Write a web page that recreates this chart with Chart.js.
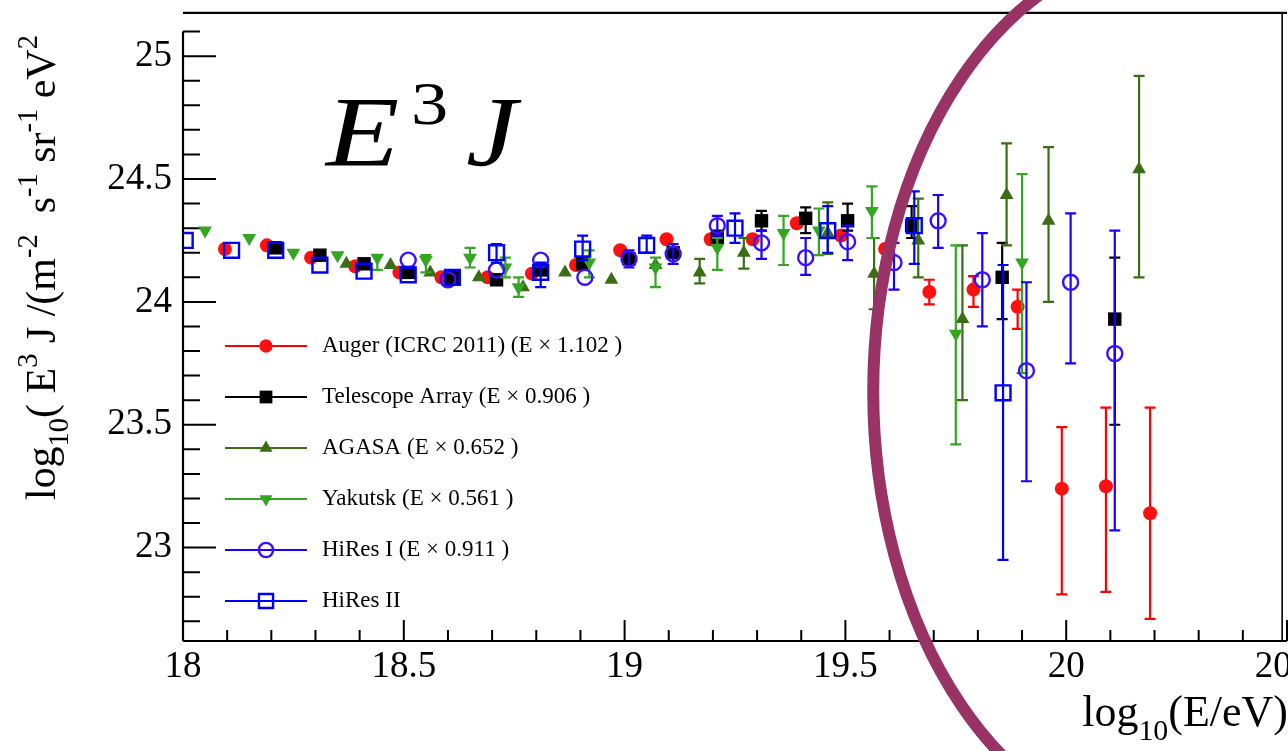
<!DOCTYPE html>
<html><head><meta charset="utf-8">
<script src="https://cdn.jsdelivr.net/npm/chart.js@4.4.1/dist/chart.umd.min.js"></script>
<style>html,body{margin:0;padding:0;background:#fff;overflow:hidden;}#wrap{width:1330px;height:751px;}</style>
</head><body><div id="wrap"><canvas id="c" width="1330" height="751"></canvas></div>
<script>
const SERIF = "'Liberation Serif','Times New Roman',serif";

const xTickLabels = [18, 18.5, 19, 19.5, 20, 20.5];
const yTickLabels = [23, 23.5, 24, 24.5, 25];

const seriesLabels = [
  "Auger (ICRC 2011) (E \u00d7 1.102 )",
  "Telescope Array (E \u00d7 0.906 )",
  "AGASA (E \u00d7 0.652 )",
  "Yakutsk (E \u00d7 0.561 )",
  "HiRes I (E \u00d7 0.911 )",
  "HiRes II"
];

const augerX = [18.095,18.19,18.29,18.39,18.49,18.585,18.69,18.79,18.89,18.99,19.095,19.195,19.29,19.39,19.49,19.59,19.69,19.79,19.89,19.99,20.09,20.19];
const augerY = [24.215,24.23,24.18,24.145,24.12,24.10,24.10,24.115,24.15,24.21,24.255,24.255,24.255,24.32,24.27,24.215,24.04,24.05,23.98,23.24,23.25,23.14];
const augerLo = [null,null,null,null,null,null,null,null,null,null,null,null,null,null,null,null,23.99,23.98,23.89,22.81,22.82,22.71];
const augerHi = [null,null,null,null,null,null,null,null,null,null,null,null,null,null,null,null,24.09,24.105,24.05,23.49,23.57,23.57];

const taX = [18.21,18.31,18.41,18.51,18.61,18.71,18.81,18.905,19.01,19.11,19.21,19.31,19.41,19.505,19.65,19.855,20.11];
const taY = [24.22,24.19,24.155,24.12,24.10,24.09,24.13,24.155,24.175,24.20,24.26,24.33,24.34,24.33,24.31,24.10,23.93];
const taLo = [null,null,null,null,null,null,null,null,null,null,24.23,24.29,24.28,24.29,24.26,23.93,23.50];
const taHi = [null,null,null,null,null,null,null,null,null,null,24.29,24.37,24.385,24.40,24.39,24.24,24.18];

const agasaX = [18.37,18.47,18.56,18.67,18.77,18.865,18.97,19.07,19.17,19.27,19.46,19.565,19.665,19.765,19.865,19.96,20.165];
const agasaY = [24.155,24.15,24.12,24.10,24.06,24.12,24.09,24.15,24.12,24.20,24.28,24.115,24.25,23.93,24.435,24.33,24.54];
const agasaLo = [null,null,null,null,null,null,null,null,24.075,24.135,24.195,23.97,24.10,23.60,24.23,24.00,24.10];
const agasaHi = [null,null,null,null,null,null,null,null,24.175,24.26,24.405,24.26,24.42,24.23,24.645,24.63,24.92];

const yakX = [18.05,18.15,18.25,18.35,18.44,18.55,18.65,18.73,18.76,18.92,19.07,19.21,19.36,19.44,19.56,19.75,19.90];
const yakY = [24.29,24.26,24.20,24.19,24.18,24.17,24.18,24.14,24.06,24.16,24.14,24.22,24.28,24.29,24.37,23.87,24.16];
const yakLo = [null,null,null,null,24.13,24.12,24.14,24.10,24.02,24.10,24.06,24.13,24.15,24.19,24.26,23.42,23.71];
const yakHi = [null,null,null,null,24.19,24.19,24.22,24.18,24.10,24.21,24.18,24.26,24.35,24.38,24.47,24.23,24.52];

const hr1X = [18.51,18.60,18.71,18.81,18.91,19.01,19.11,19.21,19.31,19.41,19.505,19.61,19.71,19.81,19.91,20.01,20.11];
const hr1Y = [24.17,24.09,24.13,24.17,24.10,24.175,24.195,24.31,24.24,24.18,24.245,24.16,24.33,24.09,23.72,24.08,23.79];
const hr1Lo = [null,null,null,null,null,24.14,24.155,24.27,24.175,24.11,24.17,24.05,24.22,23.90,23.27,23.75,23.07];
const hr1Hi = [null,null,null,null,null,24.21,24.235,24.35,24.29,24.26,24.31,24.24,24.435,24.28,24.08,24.36,24.29];

const hr2X = [18.005,18.11,18.21,18.31,18.41,18.51,18.61,18.71,18.81,18.905,19.05,19.25,19.46,19.656,19.857];
const hr2Y = [24.25,24.21,24.21,24.15,24.125,24.11,24.10,24.20,24.12,24.215,24.23,24.30,24.29,24.31,23.63];
const hr2Lo = [null,null,null,null,null,null,null,24.16,24.06,24.17,24.20,24.24,24.20,24.155,22.95];
const hr2Hi = [null,null,null,null,null,null,null,24.235,24.16,24.27,24.27,24.36,24.39,24.45,24.15];

// annotation ellipse (data units): centre x, centre y, half-width, half-height
const ringCentre = [20.243, 23.635];
const ringRadii = [0.68, 1.804];

function pts(xs, ys){ return xs.map((x,i)=>({x:x, y:ys[i]})); }
function errs(lo, hi){ return lo.map((l,i)=> (l===null||hi[i]===null) ? null : [l, hi[i]]); }

const datasets = [
  {label:seriesLabels[0], data:pts(augerX,augerY), errs:errs(augerLo,augerHi), errColor:'#ff0000',
   pointStyle:'circle', pointRadius:7, backgroundColor:'#ff1010', borderColor:'#ff1010', borderWidth:0, order:6},
  {label:seriesLabels[1], data:pts(taX,taY), errs:errs(taLo,taHi), errColor:'#000000',
   pointStyle:'rect', pointRadius:9.5, backgroundColor:'#000000', borderColor:'#000000', borderWidth:0, order:5},
  {label:seriesLabels[2], data:pts(agasaX,agasaY), errs:errs(agasaLo,agasaHi), errColor:'#3b6e14',
   pointStyle:'triangle', pointRadius:8, backgroundColor:'#3b6e14', borderColor:'#3b6e14', borderWidth:0, order:4},
  {label:seriesLabels[3], data:pts(yakX,yakY), errs:errs(yakLo,yakHi), errColor:'#33a622',
   pointStyle:'triangle', pointRotation:180, pointRadius:8, backgroundColor:'#33a622', borderColor:'#33a622', borderWidth:0, order:3},
  {label:seriesLabels[4], data:pts(hr1X,hr1Y), errs:errs(hr1Lo,hr1Hi), errColor:'#1a00ff',
   pointStyle:'circle', pointRadius:7.5, backgroundColor:'rgba(0,0,0,0)', borderColor:'#3a10ff', borderWidth:2.4, order:2},
  {label:seriesLabels[5], data:pts(hr2X,hr2Y), errs:errs(hr2Lo,hr2Hi), errColor:'#0000ff',
   pointStyle:'rect', pointRadius:10.5, backgroundColor:'rgba(0,0,0,0)', borderColor:'#0000ff', borderWidth:2.4, order:1}
];
datasets.forEach(d=>{ d.showLine=false; d.pointHoverRadius=d.pointRadius; });

const errPlugin = {
  id:'errbars',
  beforeDatasetDraw(chart, args){
    const ds = chart.data.datasets[args.index];
    if(!ds.errs) return;
    const xs = chart.scales.x, ys = chart.scales.y, ctx = chart.ctx;
    ctx.save();
    ctx.strokeStyle = ds.errColor; ctx.lineWidth = 2.2;
    ds.data.forEach((p,i)=>{
      const e = ds.errs[i]; if(!e) return;
      const px = xs.getPixelForValue(p.x);
      const y1 = ys.getPixelForValue(e[0]), y2 = ys.getPixelForValue(e[1]);
      ctx.beginPath();
      ctx.moveTo(px, y1); ctx.lineTo(px, y2);
      ctx.moveTo(px-5.5, y1); ctx.lineTo(px+5.5, y1);
      ctx.moveTo(px-5.5, y2); ctx.lineTo(px+5.5, y2);
      ctx.stroke();
    });
    ctx.restore();
  }
};

const axesPlugin = {
  id:'frame',
  beforeDatasetsDraw(chart){
    const {ctx, chartArea:a} = chart; const xs = chart.scales.x, ys = chart.scales.y;
    ctx.save();
    ctx.strokeStyle = '#000'; ctx.lineWidth = 2.2;
    ctx.beginPath();
    ctx.moveTo(a.left, ys.getPixelForValue(25.1)); ctx.lineTo(a.left, a.bottom);
    ctx.moveTo(a.left, a.bottom); ctx.lineTo(a.right, a.bottom);
    ctx.moveTo(a.left, a.top); ctx.lineTo(a.right, a.top);
    ctx.stroke();
    ctx.lineWidth = 1.6;
    ctx.beginPath();
    const rx = xs.getPixelForValue(20.489);
    ctx.moveTo(rx, a.top); ctx.lineTo(rx, a.bottom);
    ctx.stroke();
    ctx.lineWidth = 2;
    ctx.beginPath();
    for(let k=0;k<=25;k++){
      const v = 18 + k*0.1; const px = xs.getPixelForValue(v);
      const major = (k%5===0);
      ctx.moveTo(px, a.bottom); ctx.lineTo(px, a.bottom - (major?21:11));
    }
    for(let k=-3;k<=21;k++){
      const v = 23 + k*0.1; const py = ys.getPixelForValue(v);
      const major = (k%5===0);
      ctx.moveTo(a.left, py); ctx.lineTo(a.left + (major?33:17), py);
    }
    ctx.stroke();
    ctx.restore();
  }
};

function drawRuns(ctx, runs, x, y, base, measureOnly){
  let cx = x;
  runs.forEach(([t,k])=>{
    const size = k==='n' ? base : base*0.68;
    const dy = k==='sub' ? base*0.32 : (k==='sup' ? -base*0.42 : 0);
    ctx.font = size + 'px ' + SERIF;
    if(!measureOnly) ctx.fillText(t, cx, y+dy);
    cx += ctx.measureText(t).width;
  });
  return cx - x;
}

function stretchText(ctx, t, x, y, font, sx){
  ctx.save(); ctx.translate(x, y); ctx.scale(sx, 1); ctx.font = font; ctx.fillText(t, 0, 0); ctx.restore();
}

const textPlugin = {
  id:'texts',
  afterDraw(chart){
    const ctx = chart.ctx; const xs = chart.scales.x, ys = chart.scales.y;
    ctx.save();
    ctx.fillStyle = '#000'; ctx.textBaseline = 'alphabetic'; ctx.textAlign = 'left';
    datasets.forEach((d,i)=>{
      const y = 346 + i*51;
      ctx.strokeStyle = d.errColor; ctx.lineWidth = 2;
      ctx.beginPath(); ctx.moveTo(225,y); ctx.lineTo(307,y); ctx.stroke();
      ctx.fillStyle = d.backgroundColor; ctx.strokeStyle = d.borderColor; ctx.lineWidth = d.borderWidth;
      Chart.helpers.drawPoint(ctx, {pointStyle:d.pointStyle, radius:d.pointRadius*0.95, rotation:d.pointRotation||0, borderWidth:d.borderWidth}, 266, y);
      ctx.fillStyle = '#000'; ctx.font = '23px ' + SERIF; ctx.textBaseline = 'middle';
      ctx.fillText(d.label, 322, y);
      ctx.textBaseline = 'alphabetic';
    });
    ctx.fillStyle = '#000';
    stretchText(ctx, 'E', 326, 165, 'italic 100px ' + SERIF, 1.2);
    stretchText(ctx, '3', 411, 124, '62px ' + SERIF, 1.2);
    stretchText(ctx, 'J', 466, 165, 'italic 100px ' + SERIF, 1.15);
    const xr = [['log','n'],['10','sub'],['(E/eV)','n']];
    const wx = drawRuns(ctx, xr, 0, 0, 44, true);
    drawRuns(ctx, xr, 1288 - wx, 726, 44, false);
    const yr = [['log','n'],['10','sub'],['( E','n'],['3','sup'],[' J /(m','n'],['-2','sup'],['  s','n'],['-1','sup'],[' sr','n'],['-1','sup'],[' eV','n'],['2','sup']];
    let fs = 38;
    const w0 = drawRuns(ctx, yr, 0, 0, fs, true);
    fs = fs * 465 / w0;
    ctx.translate(55, 500); ctx.rotate(-Math.PI/2);
    drawRuns(ctx, yr, 0, 0, fs, false);
    ctx.restore();
    ctx.save();
    const cx = xs.getPixelForValue(ringCentre[0]), cy = ys.getPixelForValue(ringCentre[1]);
    const rxp = xs.getPixelForValue(ringCentre[0]+ringRadii[0]) - cx;
    const ryp = cy - ys.getPixelForValue(ringCentre[1]+ringRadii[1]);
    ctx.strokeStyle = '#993366'; ctx.lineWidth = 12;
    ctx.beginPath(); ctx.ellipse(cx, cy, rxp, ryp, 0, 0, Math.PI*2); ctx.stroke();
    ctx.restore();
  }
};

new Chart(document.getElementById('c'), {
  type:'scatter',
  data:{datasets:datasets},
  options:{
    responsive:false, animation:false, events:[],
    layout:{padding:{top:10, left:0, right:43, bottom:0}},
    plugins:{legend:{display:false}, tooltip:{enabled:false}},
    scales:{
      x:{type:'linear', min:18, max:20.5,
        afterBuildTicks:s=>{ s.ticks = xTickLabels.map(v=>({value:v})); },
        afterFit:s=>{ s.height = 110; s.paddingLeft = 0; s.paddingRight = 0; },
        grid:{display:false, drawTicks:false}, border:{display:false},
        ticks:{color:'#000', font:{family:SERIF, size:37}, padding:4, maxRotation:0, autoSkip:false, callback:v=>String(v)}},
      y:{type:'linear', min:22.62, max:25.176,
        afterBuildTicks:s=>{ s.ticks = yTickLabels.map(v=>({value:v})); },
        afterFit:s=>{ s.width = 183; s.paddingTop = 0; s.paddingBottom = 0; },
        grid:{display:false, drawTicks:false}, border:{display:false},
        ticks:{color:'#000', font:{family:SERIF, size:37}, padding:11, autoSkip:false, callback:v=>String(v)}}
    }
  },
  plugins:[axesPlugin, errPlugin, textPlugin]
});
</script></body></html>
